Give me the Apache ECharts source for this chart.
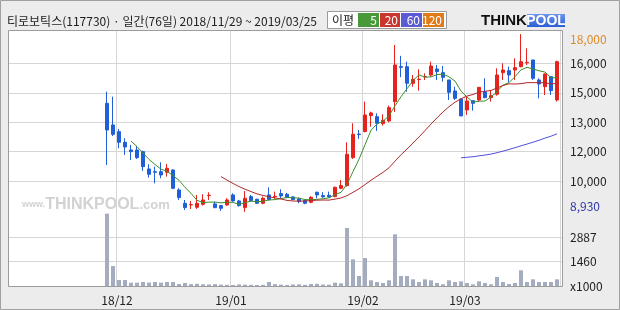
<!DOCTYPE html>
<html><head><meta charset="utf-8">
<script src="https://cdn.jsdelivr.net/npm/echarts@6/dist/echarts.min.js"></script>
<style>html,body{margin:0;padding:0;background:#ececec}#c{width:620px;height:310px}</style>
</head><body><div id="c"></div>
<script>
// ---- data ----
const dates = [
 '2018/11/29','2018/11/30',
 '2018/12/03','2018/12/04','2018/12/05','2018/12/06','2018/12/07','2018/12/10','2018/12/11','2018/12/12','2018/12/13','2018/12/14',
 '2018/12/17','2018/12/18','2018/12/19','2018/12/20','2018/12/21','2018/12/24','2018/12/26','2018/12/27','2018/12/28',
 '2019/01/02','2019/01/03','2019/01/04','2019/01/07','2019/01/08','2019/01/09','2019/01/10','2019/01/11','2019/01/14','2019/01/15',
 '2019/01/16','2019/01/17','2019/01/18','2019/01/21','2019/01/22','2019/01/23','2019/01/24','2019/01/25','2019/01/28','2019/01/29',
 '2019/01/30','2019/01/31',
 '2019/02/01','2019/02/07','2019/02/08','2019/02/11','2019/02/12','2019/02/13','2019/02/14','2019/02/15','2019/02/18','2019/02/19',
 '2019/02/20','2019/02/21','2019/02/22','2019/02/25','2019/02/26','2019/02/27','2019/02/28',
 '2019/03/04','2019/03/05','2019/03/06','2019/03/07','2019/03/08','2019/03/11','2019/03/12','2019/03/13','2019/03/14','2019/03/15',
 '2019/03/18','2019/03/19','2019/03/20','2019/03/21','2019/03/22','2019/03/25'
];
const opens = [
 14468,13363,13023,12479,12088,12088,12003,11119,10983,10983,10949,11068,10048,9368,9283,9164,9317,9760,9334,9249,
 9283,9793,9487,9147,9708,9573,9369,9794,9700,9862,9828,9692,9590,9505,9420,9930,9760,9777,9709,10134,
 10270,11698,12900,13024,13840,13789,13432,13568,14554,16339,16339,15489,15680,15820,15914,16220,16033,15659,15098,14690,
 14129,14605,14639,15064,14758,14928,16033,16135,16169,16339,16540,16679,15659,15319,15829,14639
];
const closes = [
 13108,12887,12479,12241,12003,11697,11238,10847,10950,10813,11153,10133,9657,9147,9300,9368,9538,9780,9147,9113,
 9538,9487,9249,9623,9504,9369,9624,9556,9726,9743,9675,9556,9454,9369,9675,9794,9692,9692,10185,10270,
 11868,12888,12870,13874,13976,13449,13602,14248,16424,16300,15489,15693,15700,15830,16373,16084,15795,15030,14724,13823,
 14588,14469,15285,14758,14860,15914,16169,15914,16288,16594,16560,15744,15455,15965,15115,16594
];
const lows = [
 11323,12800,12173,11833,11578,11629,11017,10677,10388,10643,10728,10090,9538,9028,9079,9079,9249,9538,9113,8977,
 9249,9453,9198,8930,9453,9330,9318,9522,9590,9624,9624,9522,9369,9318,9369,9624,9658,9658,9675,10100,
 10219,11630,12650,12990,13279,13058,13330,13500,14020,15800,15064,15319,15115,15659,15829,15659,15574,14639,14639,13823,
 13874,14095,14554,14724,14554,14860,15659,15523,15659,16305,16424,15659,14724,14894,14894,14554
];
const highs = [
 15063,14808,13159,12683,12343,12292,12050,11357,11238,11459,11374,11100,10133,9538,9487,9793,9827,9929,9453,9283,
 9623,9878,9538,9997,9793,9600,9709,10185,9964,10083,9896,9726,9658,9539,9726,9964,9930,9964,10219,10559,
 12480,13449,13109,14554,14044,13959,13908,14350,17444,16890,16594,15914,16203,15999,16594,16424,16373,15659,15319,14690,
 14809,14605,15285,15744,15149,16254,16509,16339,16764,18000,17274,16679,15744,15999,15829,16645
];
const volumes = [
 4300,1189,357,357,198,198,238,198,238,198,238,238,120,178,110,130,100,90,110,80,
 70,60,90,80,70,60,70,238,110,80,60,90,100,70,120,130,90,80,198,158,
 3448,1585,595,1665,337,238,178,337,3071,595,595,396,238,396,337,178,100,337,238,277,
 178,100,277,178,100,535,238,120,178,932,238,396,238,238,238,396
];
const priceTickValues = [8930, 10500, 12000, 13500, 15000, 16500, 18000];
const priceTickLabels = ['8,930', '10,000', '12,000', '13,000', '15,000', '16,000', '18,000'];
const volTickValues = [0, 1460, 2887];
const volTickLabels = ['x1000', '1460', '2887'];
const maPeriods = [5, 20, 60, 120];
const maColors = ['#3d8f2d', '#b0282a', '#5050dc', '#e07a17'];
const legendBoxColors = ['#47993a', '#c9362f', '#5b5bd6', '#e07b18'];
const titleText = '티로보틱스(117730) · 일간(76일) 2018/11/29 ~ 2019/03/25';

// ---- layout constants ----
const PAD = 16;              // empty slots left of the first trading day
const PMIN = 8872, PMAX = 18209;
const VMAX = 4340;
const FONT = '"Noto Sans CJK KR", "Noto Sans", sans-serif';

const cats = [];
for (let i = 0; i < PAD; i++) cats.push('pad' + i);
dates.forEach(d => cats.push(d));

const monthStart = new Set();
dates.forEach((d, i) => { if (i > 0 && d.slice(0, 7) !== dates[i - 1].slice(0, 7)) monthStart.add(i + PAD); });

const candleData = dates.map((d, i) => [PAD + i, opens[i], closes[i], lows[i], highs[i]]);
const volData = dates.map((d, i) => [PAD + i, volumes[i]]);
function movingAverage(period) {
  const out = [];
  for (let i = period - 1; i < closes.length; i++) {
    let s = 0;
    for (let k = i - period + 1; k <= i; k++) s += closes[k];
    out.push([PAD + i, Math.round(s / period)]);
  }
  return out;
}

const gridLine = '#d6d6d6';
const chart = echarts.init(document.getElementById('c'), null, {renderer: 'canvas'});

const legendGraphics = [];
legendGraphics.push({type: 'rect', shape: {x: 327.5, y: 11.5, width: 119, height: 17}, style: {fill: '#fff', stroke: '#9a9a9a', lineWidth: 1}});
legendGraphics.push({type: 'text', x: 332, y: 20.5, style: {text: '이평', font: '12px ' + FONT, fill: '#222', verticalAlign: 'middle'}});
const boxX = [358, 380, 401, 423];
const boxW = [21, 20, 21, 21];
maPeriods.forEach((p, k) => {
  legendGraphics.push({type: 'rect', shape: {x: boxX[k], y: 13, width: boxW[k], height: 14}, style: {fill: legendBoxColors[k]}});
  legendGraphics.push({type: 'text', x: boxX[k] + boxW[k] - 2, y: 20.5, style: {text: String(p), font: '12px ' + FONT, fill: '#fff', align: 'right', verticalAlign: 'middle'}});
});

const option = {
  backgroundColor: '#ececec',
  animation: false,
  textStyle: {fontFamily: FONT},
  grid: [
    {left: 8, top: 30, width: 555, height: 183, show: true, backgroundColor: '#fff', borderWidth: 0},
    {left: 8, top: 213, width: 555, height: 73, show: true, backgroundColor: '#fff', borderWidth: 0},
    {left: 8, top: 30, width: 552, height: 183},
    {left: 8, top: 213, width: 552, height: 73}
  ],
  xAxis: [
    {type: 'value', gridIndex: 0, min: 0, max: 1, show: false},
    {type: 'value', gridIndex: 1, min: 0, max: 1, show: false},
    {type: 'category', gridIndex: 2, data: cats, boundaryGap: true,
     axisLine: {show: false}, axisTick: {show: false}, axisLabel: {show: false},
     splitLine: {show: true, interval: (idx) => monthStart.has(idx), lineStyle: {color: gridLine, width: 1}}},
    {type: 'category', gridIndex: 3, data: cats, boundaryGap: true,
     axisLine: {show: false}, axisTick: {show: false},
     axisLabel: {show: true, interval: (idx) => monthStart.has(idx), margin: 8,
       formatter: (v) => '{s|' + v.slice(2, 4) + '/' + v.slice(5, 7) + '}',
       rich: {s: {fontSize: 12, color: '#222', fontFamily: FONT, padding: [0, 4, 0, 0]}}},
     splitLine: {show: true, interval: (idx) => monthStart.has(idx), lineStyle: {color: gridLine, width: 1}}}
  ],
  yAxis: [
    {type: 'value', gridIndex: 0, min: PMIN, max: PMAX, position: 'right',
     axisLine: {show: false}, axisTick: {show: false, customValues: priceTickValues},
     axisLabel: {show: true, customValues: priceTickValues, margin: 7, align: 'left',
       formatter: (v) => {
         const k = priceTickValues.indexOf(v);
         const t = k >= 0 ? priceTickLabels[k] : '';
         if (k === priceTickValues.length - 1) return '{mx|' + t + '}';
         if (k === 0) return '{mn|' + t + '}';
         return '{n|' + t + '}';
       },
       rich: {
         mx: {color: '#dd8a2c', fontSize: 12, fontFamily: FONT, padding: [10, 0, 0, 0]},
         mn: {color: '#2e35a8', fontSize: 12, fontFamily: FONT, padding: [0, 0, 10, 0]},
         n: {color: '#222', fontSize: 12, fontFamily: FONT}
       }},
     splitLine: {show: true, lineStyle: {color: ['rgba(0,0,0,0)', gridLine, gridLine, gridLine, gridLine, gridLine, 'rgba(0,0,0,0)'], width: 1}}},
    {type: 'value', gridIndex: 1, min: 0, max: VMAX, position: 'right',
     axisLine: {show: false}, axisTick: {show: false, customValues: volTickValues},
     axisLabel: {show: true, customValues: volTickValues, margin: 7, align: 'left', color: '#222', fontSize: 12, fontFamily: FONT,
       formatter: (v) => { const k = volTickValues.indexOf(v); return k >= 0 ? volTickLabels[k] : ''; }},
     splitLine: {show: true, lineStyle: {color: ['rgba(0,0,0,0)', gridLine, gridLine], width: 1}}},
    {type: 'value', gridIndex: 2, min: PMIN, max: PMAX, show: false, splitLine: {show: false}},
    {type: 'value', gridIndex: 3, min: 0, max: VMAX, show: false, splitLine: {show: false}}
  ],
  series: [
    {type: 'bar', name: 'volume', xAxisIndex: 3, yAxisIndex: 3, data: volData, barWidth: 4,
     itemStyle: {color: '#a4acc0'}},
    {type: 'candlestick', name: 'price', xAxisIndex: 2, yAxisIndex: 2, data: candleData,
     encode: {x: 0, y: [1, 2, 3, 4]}, barWidth: 4,
     itemStyle: {color: '#e6221c', color0: '#1f5fd8', borderColor: '#e6221c', borderColor0: '#1f5fd8', borderWidth: 1}},
  ].concat(maPeriods.map((p, k) => ({
     type: 'line', name: 'MA' + p, xAxisIndex: 2, yAxisIndex: 2, data: movingAverage(p),
     showSymbol: false, symbol: 'none', lineStyle: {color: maColors[k], width: 1}, z: 3
  }))),
  graphic: [
    {type: 'rect', shape: {x: 0.5, y: 0.5, width: 619, height: 309}, style: {fill: 'none', stroke: '#a0a0a0', lineWidth: 1}, z: 100},
    {type: 'rect', shape: {x: 8.5, y: 30.5, width: 554, height: 256}, style: {fill: 'none', stroke: '#9c9c9c', lineWidth: 1}, z: 100},
    {type: 'text', x: 7, y: 21, style: {text: titleText, font: '12px ' + FONT, fill: '#222', verticalAlign: 'middle'}, z: 100},
    {type: 'text', x: 481, y: 21, style: {text: 'THINK', font: 'bold 15px "Liberation Sans", sans-serif', fill: '#111', verticalAlign: 'middle'}, z: 100},
    {type: 'rect', shape: {x: 527, y: 14, width: 38, height: 13},
     style: {fill: new echarts.graphic.LinearGradient(0, 0, 0, 1, [{offset: 0, color: '#6d95ec'}, {offset: 1, color: '#2a5fd6'}])}, z: 100},
    {type: 'text', x: 546, y: 21, style: {text: 'POOL', font: 'bold 14px "Liberation Sans", sans-serif', fill: '#fff', align: 'center', verticalAlign: 'middle'}, z: 101},
    {type: 'text', x: 22, y: 205, z: 1,
     style: {text: '{a|www.}{b|THINKPOOL}{c|.com}', verticalAlign: 'middle',
       rich: {a: {font: 'bold 9px "Liberation Sans", sans-serif', fill: '#d2d2d2', color: '#d2d2d2'},
              b: {font: 'bold 16px "Liberation Sans", sans-serif', fill: '#d2d2d2', color: '#d2d2d2'},
              c: {font: 'bold 13px "Liberation Sans", sans-serif', fill: '#d2d2d2', color: '#d2d2d2'}}}}
  ].concat(legendGraphics.map(g => Object.assign({z: 100}, g)))
};
chart.setOption(option);
</script></body></html>
